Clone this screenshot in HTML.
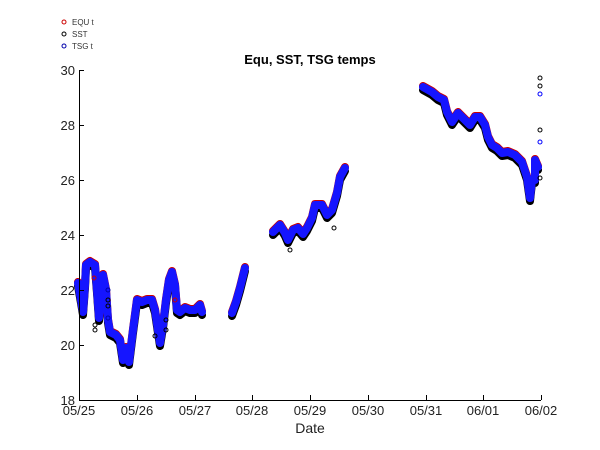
<!DOCTYPE html><html><head><style>body{margin:0;background:#fff}svg{display:block}</style></head><body>
<svg width="600" height="450" xmlns="http://www.w3.org/2000/svg" font-family="Liberation Sans, sans-serif">
<rect width="600" height="450" fill="#fff"/>
<g fill="none" stroke-linejoin="round" stroke-linecap="round">
<g id="d">
<polyline points="78,283 81,300 83,312 85,285 86,265 90,262 95,265 97,290 99,318 101,295 103,275 106,290 108,320 110,332 116,335 120,340 123,360 126,348 129,362 133,330 137,300 142,302 147,300 152,300 155,310 158,330 160,343 163,325 166,300 169,280 172,272 175,285 177,310 180,312 185,308 190,310 195,310 200,305 202,312"/>
<polyline points="232,313 236,302 240,288 243,276 245,268"/>
<polyline points="273,232 280,225 285,233 288,240 293,230 298,228 303,234 307,228 312,218 315,205 322,205 327,215 332,210 337,193 340,177 345,168"/>
<polyline points="423,87 432,92 438,97 444,100 447,112 452,122 458,113 465,120 470,125 475,117 480,117 485,125 488,137 492,145 497,148 502,153 508,152 515,155 522,162 527,177 530,198 532,180 535,180 535,160 538,167"/>
</g>
<use href="#d" stroke="#000" stroke-width="8" transform="translate(0,3)"/>
<use href="#d" stroke="#c00" stroke-width="8" transform="translate(0,-1)"/>
<use href="#d" stroke="#1515ff" stroke-width="8"/>
</g>
<g fill="none" stroke-width="1">
<circle cx="540" cy="78" r="2" stroke="#000"/><circle cx="540" cy="86" r="2" stroke="#000"/><circle cx="540" cy="94" r="2" stroke="#00f"/><circle cx="540" cy="130" r="2" stroke="#000"/><circle cx="540" cy="142" r="2" stroke="#00f"/><circle cx="540" cy="178" r="2" stroke="#000"/>
<circle cx="94" cy="278" r="2" stroke="#c00"/><circle cx="95" cy="325" r="2" stroke="#000"/><circle cx="95" cy="330" r="2" stroke="#000"/><circle cx="108" cy="290" r="2" stroke="#00a"/><circle cx="108" cy="300" r="2" stroke="#000"/><circle cx="108" cy="306" r="2" stroke="#000"/><circle cx="108" cy="318" r="2" stroke="#00a"/><circle cx="166" cy="320" r="2" stroke="#000"/><circle cx="166" cy="330" r="2" stroke="#000"/><circle cx="175" cy="300" r="2" stroke="#c00"/><circle cx="155" cy="336" r="2" stroke="#000"/><circle cx="290" cy="250" r="2" stroke="#000"/><circle cx="334" cy="228" r="2" stroke="#000"/>
</g>
<g stroke="#000" stroke-width="1" fill="none">
<path d="M79.5,70V400.5H541"/>
<path d="M79,70.5h5M79,125.5h5M79,180.5h5M79,235.5h5M79,290.5h5M79,345.5h5"/>
<path d="M137.5,400v-5M195.5,400v-5M252.5,400v-5M310.5,400v-5M368.5,400v-5M426.5,400v-5M483.5,400v-5M541.5,400v-5"/>
</g>
<g font-size="13" fill="#222" text-anchor="end">
<text x="75" y="75">30</text><text x="75" y="130">28</text><text x="75" y="185">26</text><text x="75" y="240">24</text><text x="75" y="295">22</text><text x="75" y="350">20</text><text x="75" y="405">18</text>
</g>
<g font-size="13" fill="#222" text-anchor="middle">
<text x="79" y="415">05/25</text><text x="137" y="415">05/26</text><text x="195" y="415">05/27</text><text x="252" y="415">05/28</text><text x="310" y="415">05/29</text><text x="368" y="415">05/30</text><text x="426" y="415">05/31</text><text x="483" y="415">06/01</text><text x="541" y="415">06/02</text>
<text x="310" y="433" font-size="14">Date</text>
<text x="310" y="64" font-size="13" font-weight="bold" fill="#000">Equ, SST, TSG temps</text>
</g>
<g font-size="8" fill="#333">
<circle cx="64" cy="22" r="2" fill="none" stroke="#c00"/><text x="72" y="25">EQU t</text>
<circle cx="64" cy="34" r="2" fill="none" stroke="#000"/><text x="72" y="37">SST</text>
<circle cx="64" cy="46" r="2" fill="none" stroke="#00a"/><text x="72" y="49">TSG t</text>
</g>
</svg></body></html>
